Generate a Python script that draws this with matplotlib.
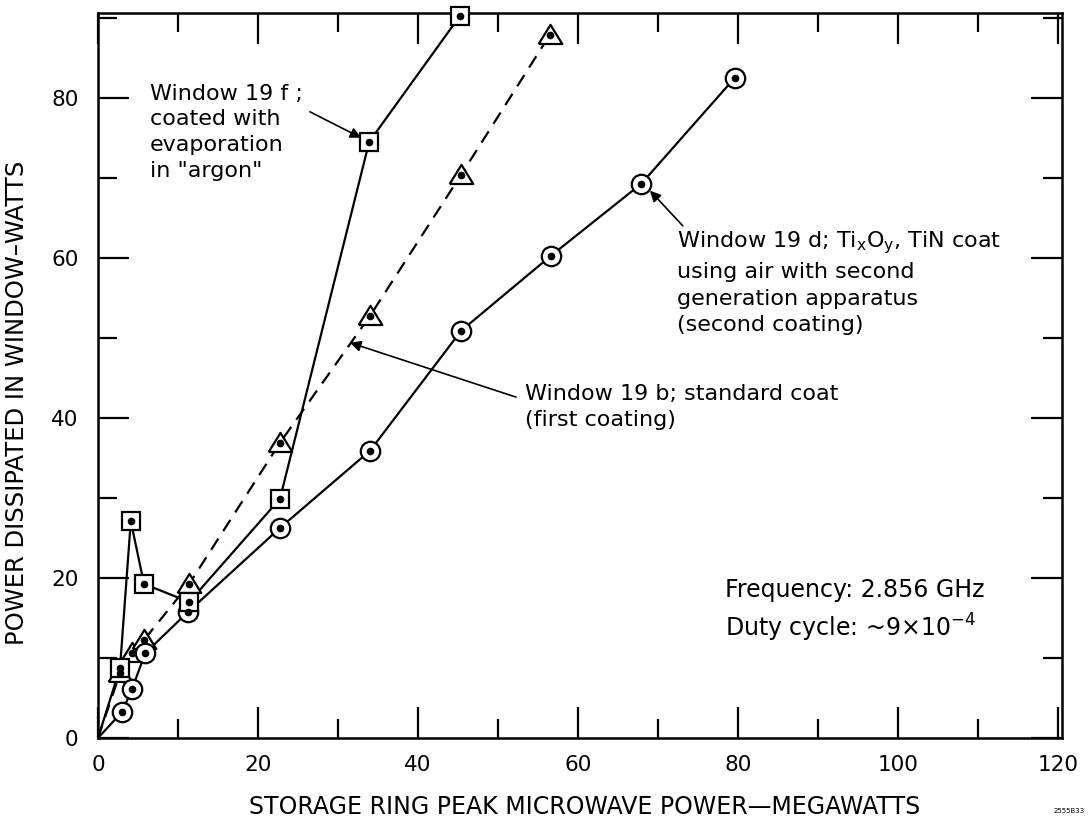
import numpy as np
import matplotlib
matplotlib.use("Agg")
import matplotlib.pyplot as plt
from matplotlib.ticker import MultipleLocator

# Window 19 f (squares), coated with evaporation in argon
x_19f = [0, 2.75, 4.1, 5.75, 11.4, 22.75, 33.9, 45.25]
y_19f = [0, 8.75, 27.1, 19.25, 17.0, 29.9, 74.5, 90.25]

# Window 19 b (triangles), standard coat
x_19b = [0, 2.75, 4.25, 5.75, 11.4, 22.75, 34.0, 45.4, 56.5]
y_19b = [0, 8.1, 10.6, 12.25, 19.25, 36.9, 52.75, 70.4, 87.9]

# Window 19 d (circles), TixOy, TiN coat
x_19d = [0, 3.0, 4.25, 5.9, 11.25, 22.75, 34.0, 45.4, 56.6, 67.9, 79.6]
y_19d = [0, 3.25, 6.1, 10.6, 15.75, 26.25, 35.9, 50.9, 60.25, 69.25, 82.5]

x_ticks = [0, 20, 40, 60, 80, 100, 120]
y_ticks = [0, 20, 40, 60, 80]

plt.rcParams['font.family'] = ['DejaVu Sans']

fig = plt.figure(figsize=(10.92, 8.18), dpi=100)
ax = fig.add_axes([98 / 1092, 1 - 738 / 818, (1062 - 98) / 1092, (738 - 13) / 818])

lw = 1.6
# lines
ax.plot(x_19f, y_19f, '-', color='black', lw=lw, zorder=2)
ax.plot(x_19b, y_19b, '--', color='black', lw=lw, dashes=(6, 4), zorder=2)
ax.plot(x_19d, y_19d, '-', color='black', lw=lw, zorder=2)

# wide, flat triangle like the drawn one
tri = [(-1.0, -0.72), (1.0, -0.72), (0.0, 0.9), (-1.0, -0.72)]

# hollow markers with a dot in the middle (skip the origin point)
ax.plot(x_19f[1:], y_19f[1:], 's', ms=13, mfc='white', mec='black', mew=1.6,
        zorder=4, clip_on=False)
ax.plot(x_19b[1:], y_19b[1:], marker=tri, ls='none', ms=17, mfc='white',
        mec='black', mew=1.6, zorder=3, clip_on=False)
ax.plot(x_19d[1:], y_19d[1:], 'o', ms=14, mfc='white', mec='black', mew=1.6,
        zorder=3, clip_on=False)
for xs, ys in [(x_19f, y_19f), (x_19b, y_19b), (x_19d, y_19d)]:
    ax.plot(xs[1:], ys[1:], 'o', ms=4.5, color='black', zorder=5, clip_on=False)

ax.set_xlim(0, 120.5)
ax.set_ylim(0, 90.6)
ax.set_xticks(x_ticks)
ax.set_yticks(y_ticks)
ax.xaxis.set_minor_locator(MultipleLocator(10))
ax.yaxis.set_minor_locator(MultipleLocator(10))
ax.tick_params(which='both', direction='in', top=True, right=True,
               width=1.6, labelsize=15.5)
ax.tick_params(axis='x', which='major', pad=12)
ax.tick_params(axis='y', which='major', pad=14)
ax.tick_params(which='major', length=22)
ax.tick_params(which='minor', length=14)
for s in ax.spines.values():
    s.set_linewidth(1.8)

ax.set_xlabel('STORAGE RING PEAK MICROWAVE POWER\u2014MEGAWATTS', fontsize=17)
ax.set_ylabel('POWER DISSIPATED IN WINDOW\u2013WATTS', fontsize=17.5)
ax.xaxis.set_label_coords(0.505, -0.0786)
ax.yaxis.set_label_coords(-0.0716, 0.463)

# annotations
arrow = dict(arrowstyle='-|>', color='black', lw=1.2, mutation_scale=16,
             shrinkA=0, shrinkB=0)
fs = 16
ax.text(6.5, 81.75, 'Window 19 f ;\ncoated with\nevaporation\nin "argon"',
        fontsize=fs, va='top', ha='left', linespacing=1.35)
ax.annotate('', xy=(32.9, 75.0), xytext=(26.5, 78.25), arrowprops=arrow)

ax.text(72.4, 63.6, 'Window 19 d; Ti$_\\mathregular{x}$O$_\\mathregular{y}$, TiN coat\n'
        'using air with second\ngeneration apparatus\n(second coating)',
        fontsize=fs, va='top', ha='left', linespacing=1.4)
ax.annotate('', xy=(69.0, 68.4), xytext=(73.1, 64.0), arrowprops=arrow)

ax.text(53.4, 44.25, 'Window 19 b; standard coat\n(first coating)',
        fontsize=fs, va='top', ha='left', linespacing=1.4)
ax.annotate('', xy=(31.5, 49.4), xytext=(52.25, 42.6), arrowprops=arrow)

ax.text(78.4, 20.0, 'Frequency: 2.856 GHz\nDuty cycle: ~9\u00d710$^{\\mathregular{-4}}$',
        fontsize=17, va='top', ha='left', linespacing=1.4)

fig.text(1069 / 1092, 1 - 811 / 818, '2555B33', fontsize=5, ha='center', va='center')

fig.savefig('out.png', dpi=100)
